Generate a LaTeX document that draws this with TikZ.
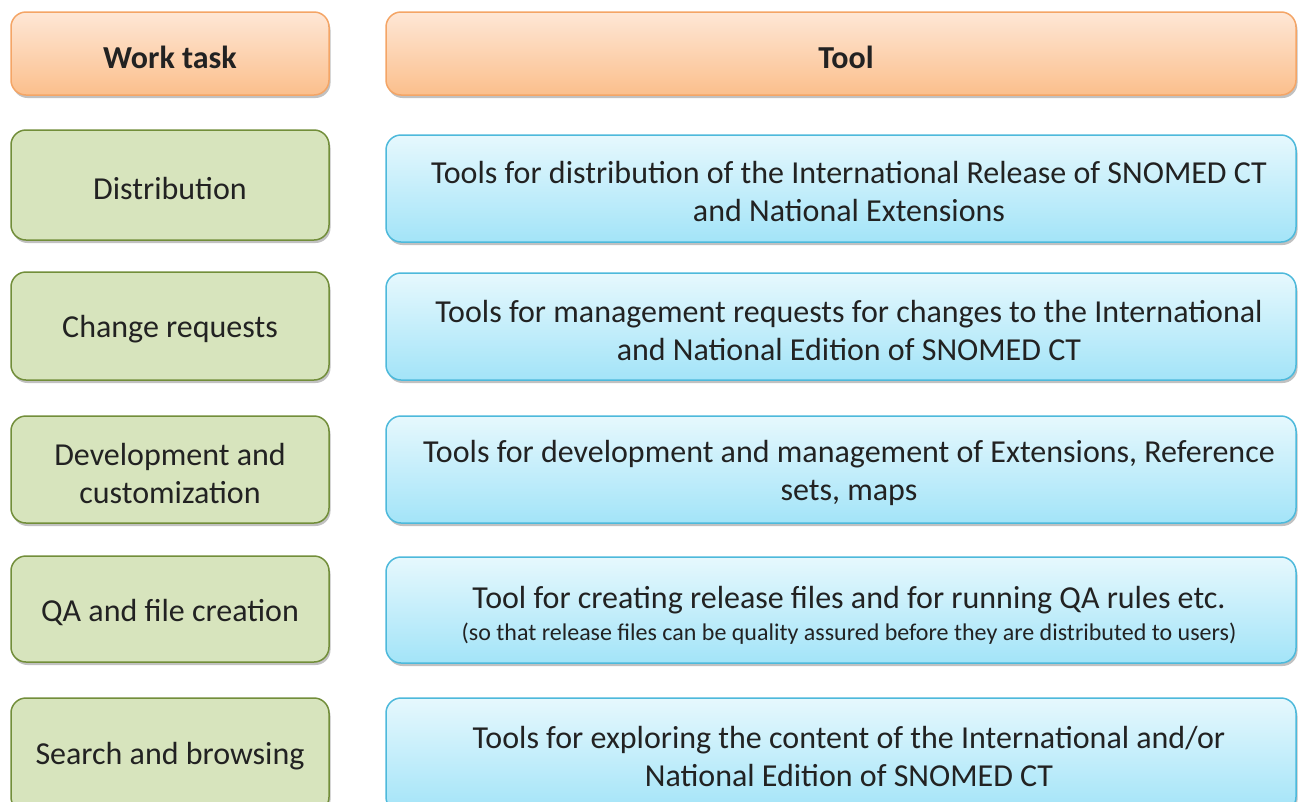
\documentclass[tikz,border=0pt]{standalone}
\usepackage{fontspec}
\setmainfont{Carlito}
\usetikzlibrary{shadows}
\definecolor{orTop}{HTML}{FEE7D6}
\definecolor{orBot}{HTML}{FBBF8C}
\definecolor{orLine}{HTML}{F4A566}
\definecolor{grFill}{HTML}{D7E4BD}
\definecolor{grLine}{HTML}{728E3A}
\definecolor{blTop}{HTML}{E6F8FD}
\definecolor{blBot}{HTML}{A3E4F8}
\definecolor{blLine}{HTML}{4DB9DB}
\definecolor{txt}{HTML}{222222}
\tikzset{
  boxbase/.style={rounded corners=15pt, line width=1.5pt, inner sep=0pt,
    drop shadow={shadow xshift=1.5pt, shadow yshift=-3pt, opacity=0.35, fill=black!70}},
  hdrbox/.style={boxbase, draw=orLine, top color=orTop, bottom color=orBot, minimum height=83pt},
  taskbox/.style={boxbase, draw=grLine, fill=grFill, minimum width=318pt},
  toolbox/.style={boxbase, draw=blLine, top color=blTop, bottom color=blBot, minimum width=910pt},
  lbl/.style={inner sep=0pt, align=center, text=txt, font=\fontsize{32}{38}\selectfont},
  hdrlbl/.style={lbl, font=\fontsize{32}{38}\selectfont\bfseries},
}
\begin{document}
\begin{tikzpicture}[x=1pt,y=-1pt]
\useasboundingbox (0,0) rectangle (1298,801);
\clip (0,0) rectangle (1298,801);
% header
\node[hdrbox, minimum width=318pt] (wt) at (170,53.5) {};
\node[hdrbox, minimum width=910pt] (tl) at (841,53.5) {};
\node[hdrlbl] (wtl) at ([yshift=-3.5pt]wt.center) {Work task};
\node[hdrlbl] (tll) at ([xshift=5pt,yshift=-3.5pt]tl.center) {Tool};
% row 1
\node[taskbox, minimum height=110pt] (t1) at (170,185) {};
\node[toolbox, minimum height=107pt] (r1) at (841,188.5) {};
\node[lbl] (t1l) at ([yshift=-3.5pt]t1.center) {Distribution};
\node[lbl] (r1l) at ([xshift=8pt,yshift=-3.5pt]r1.center) {Tools for distribution of the International Release of SNOMED CT\\and National Extensions};
% row 2
\node[taskbox, minimum height=108pt] (t2) at (170,326) {};
\node[toolbox, minimum height=107pt] (r2) at (841,326.5) {};
\node[lbl] (t2l) at ([yshift=-3.5pt]t2.center) {Change requests};
\node[lbl] (r2l) at ([xshift=8pt,yshift=-3.5pt]r2.center) {Tools for management requests for changes to the International\\and National Edition of SNOMED CT};
% row 3
\node[taskbox, minimum height=107pt] (t3) at (170,469.5) {};
\node[toolbox, minimum height=107pt] (r3) at (841,469.5) {};
\node[lbl] (t3l) at ([yshift=-3.5pt]t3.center) {Development and\\customization};
\node[lbl] (r3l) at ([xshift=8pt,yshift=-3.5pt]r3.center) {Tools for development and management of Extensions, Reference\\sets, maps};
% row 4
\node[taskbox, minimum height=106pt] (t4) at (170,609) {};
\node[toolbox, minimum height=106pt] (r4) at (841,610) {};
\node[lbl] (t4l) at ([yshift=-3.5pt]t4.center) {QA and file creation};
\node[lbl] (r4l) at ([xshift=8pt,yshift=-5pt]r4.center) {Tool for creating release files and for running QA rules etc.\\[-6pt]{\fontsize{24}{28}\selectfont (so that release files can be quality assured before they are distributed to users)}};
% row 5
\node[taskbox, minimum height=114pt] (t5) at (170,755) {};
\node[toolbox, minimum height=114pt] (r5) at (841,755) {};
\node[lbl] (t5l) at ([yshift=-1pt]t5.center) {Search and browsing};
\node[lbl] (r5l) at ([xshift=8pt,yshift=-1pt]r5.center) {Tools for exploring the content of the International and/or\\National Edition of SNOMED CT};
\end{tikzpicture}
\end{document}
